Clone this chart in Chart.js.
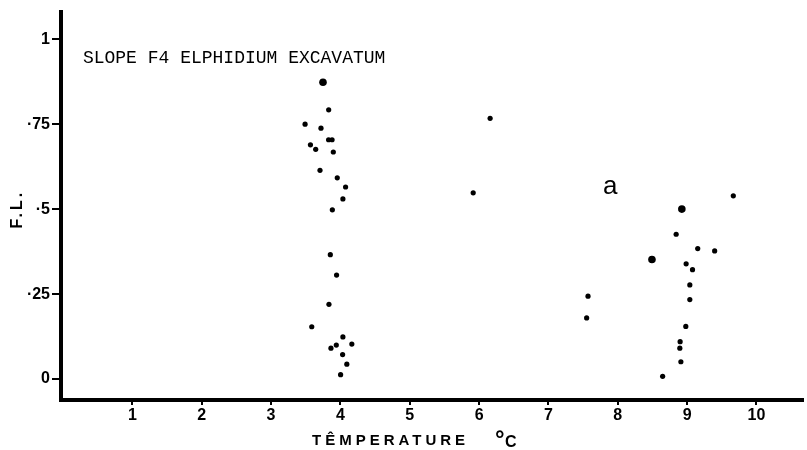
<!DOCTYPE html>
<html>
<head>
<meta charset="utf-8">
<script src="https://cdn.jsdelivr.net/npm/chart.js@4/dist/chart.umd.min.js"></script>
<style>
  html, body { margin: 0; padding: 0; background: #fff; }
  #wrap { width: 807px; height: 450px; position: relative; }
</style>
</head>
<body>
<div id="wrap"><canvas id="c"></canvas></div>
<script>
// ---- data ----
const chartTitle = "SLOPE F4 ELPHIDIUM EXCAVATUM";
const panelLetter = "a";
const xAxisTitle = "TÊMPERATURE";
const xAxisUnit = "°C";
const yAxisTitle = "F.L.";

const xTicks = [1, 2, 3, 4, 5, 6, 7, 8, 9, 10];
const xTickLabels = ["1", "2", "3", "4", "5", "6", "7", "8", "9", "10"];
const yTicks = [0, 0.25, 0.5, 0.75, 1];
const yTickLabels = ["0", "·25", "·5", "·75", "1"];

// temperature (°C) and F.L. of each sample
const temperature = [
  3.831, 3.491, 3.720, 3.830, 3.880, 3.568, 3.644, 3.898, 3.706, 3.955,
  4.075, 4.036, 3.884, 3.855, 3.945, 3.835, 3.587, 4.036, 4.165, 3.941,
  3.864, 4.032, 4.093, 4.003,
  6.159, 5.915,
  9.666, 8.842, 9.153, 9.397, 8.986, 9.078, 9.039, 9.039, 7.571, 7.551,
  8.981, 8.899, 8.895, 8.910, 8.647
];
const fl = [
  0.792, 0.750, 0.738, 0.704, 0.704, 0.689, 0.676, 0.668, 0.614, 0.592,
  0.565, 0.530, 0.498, 0.366, 0.306, 0.220, 0.154, 0.124, 0.103, 0.100,
  0.091, 0.072, 0.044, 0.013,
  0.767, 0.548,
  0.539, 0.426, 0.384, 0.377, 0.339, 0.322, 0.277, 0.234, 0.244, 0.180,
  0.155, 0.110, 0.091, 0.051, 0.008
];
// samples drawn as heavier dots
const heavyTemperature = [3.749, 8.924, 8.493];
const heavyFl = [0.873, 0.500, 0.352];

// ---- chart ----
const pts = temperature.map((t, i) => ({ x: t, y: fl[i] }));
const heavyPts = heavyTemperature.map((t, i) => ({ x: t, y: heavyFl[i] }));

const textPlugin = {
  id: 'texts',
  beforeDraw(chart) {
    const ctx = chart.ctx;
    ctx.save();
    ctx.fillStyle = '#fff';
    ctx.fillRect(0, 0, chart.width, chart.height);
    ctx.restore();
  },
  afterDraw(chart) {
    const ctx = chart.ctx;
    const xs = chart.scales.x, ys = chart.scales.y;
    const ca = chart.chartArea;
    ctx.save();
    ctx.fillStyle = '#000';
    // title inside plot
    ctx.font = '18px "Liberation Mono", "DejaVu Sans Mono", monospace';
    ctx.textAlign = 'left';
    ctx.textBaseline = 'alphabetic';
    ctx.fillText(chartTitle, xs.getPixelForValue(0.287), ys.getPixelForValue(0.930));
    // panel letter
    ctx.font = '26px "Liberation Sans", Arial, sans-serif';
    ctx.textAlign = 'center';
    ctx.fillText(panelLetter, xs.getPixelForValue(7.891), ys.getPixelForValue(0.5435));
    // x axis title
    ctx.font = 'bold 15px "Liberation Sans", Arial, sans-serif';
    ctx.textAlign = 'left';
    ctx.letterSpacing = '4px';
    ctx.fillText(xAxisTitle, ca.left + 251, ca.bottom + 45);
    ctx.letterSpacing = '0px';
    ctx.font = 'bold 24px "Liberation Sans", Arial, sans-serif';
    ctx.fillText(xAxisUnit.charAt(0), ca.left + 434, ca.bottom + 47);
    ctx.font = 'bold 16px "Liberation Sans", Arial, sans-serif';
    ctx.fillText(xAxisUnit.charAt(1), ca.left + 444, ca.bottom + 47);
    // y axis title
    ctx.translate(ca.left - 43, (ys.getPixelForValue(0.5)));
    ctx.rotate(-Math.PI / 2);
    ctx.font = 'bold 16px "Liberation Sans", Arial, sans-serif';
    ctx.letterSpacing = '3px';
    ctx.textAlign = 'center';
    ctx.textBaseline = 'middle';
    ctx.fillText(yAxisTitle, 0, 0);
    ctx.restore();
  }
};

new Chart(document.getElementById('c'), {
  type: 'scatter',
  data: {
    datasets: [
      { data: pts, backgroundColor: '#000', borderWidth: 0, pointRadius: 2.6, pointHoverRadius: 2.6 },
      { data: heavyPts, backgroundColor: '#000', borderWidth: 0, pointRadius: 3.8, pointHoverRadius: 3.8 }
    ]
  },
  options: {
    responsive: true,
    maintainAspectRatio: false,
    animation: false,
    events: [],
    layout: { padding: { top: 10, left: 0, right: 0, bottom: 0 } },
    plugins: { legend: { display: false }, tooltip: { enabled: false }, title: { display: false } },
    scales: {
      x: {
        type: 'linear',
        min: -0.029,
        max: 10.674,
        afterBuildTicks: s => { s.ticks = xTicks.map(v => ({ value: v })); },
        afterFit: s => { s.height = 50; },
        ticks: {
          color: '#000',
          padding: 1,
          font: { family: '"Liberation Sans", Arial, sans-serif', size: 16, weight: 'bold' },
          callback: (v) => { const i = xTicks.indexOf(v); return i >= 0 ? xTickLabels[i] : ''; },
          maxRotation: 0,
          autoSkip: false
        },
        grid: { display: true, drawOnChartArea: false, drawTicks: true, tickLength: 5, lineWidth: 2, color: '#000' },
        border: { display: true, width: 4, color: '#000' }
      },
      y: {
        type: 'linear',
        min: -0.0615,
        max: 1.081,
        afterBuildTicks: s => { s.ticks = yTicks.map(v => ({ value: v })); },
        afterFit: s => { s.width = 61; },
        ticks: {
          color: '#000',
          padding: 2,
          font: { family: '"Liberation Sans", Arial, sans-serif', size: 16, weight: 'bold' },
          callback: (v) => { const i = yTicks.indexOf(v); return i >= 0 ? yTickLabels[i] : ''; },
          autoSkip: false
        },
        grid: { display: true, drawOnChartArea: false, drawTicks: true, tickLength: 9, lineWidth: 2, color: '#000' },
        border: { display: true, width: 4, color: '#000' }
      }
    }
  },
  plugins: [textPlugin]
});
</script>
</body>
</html>
